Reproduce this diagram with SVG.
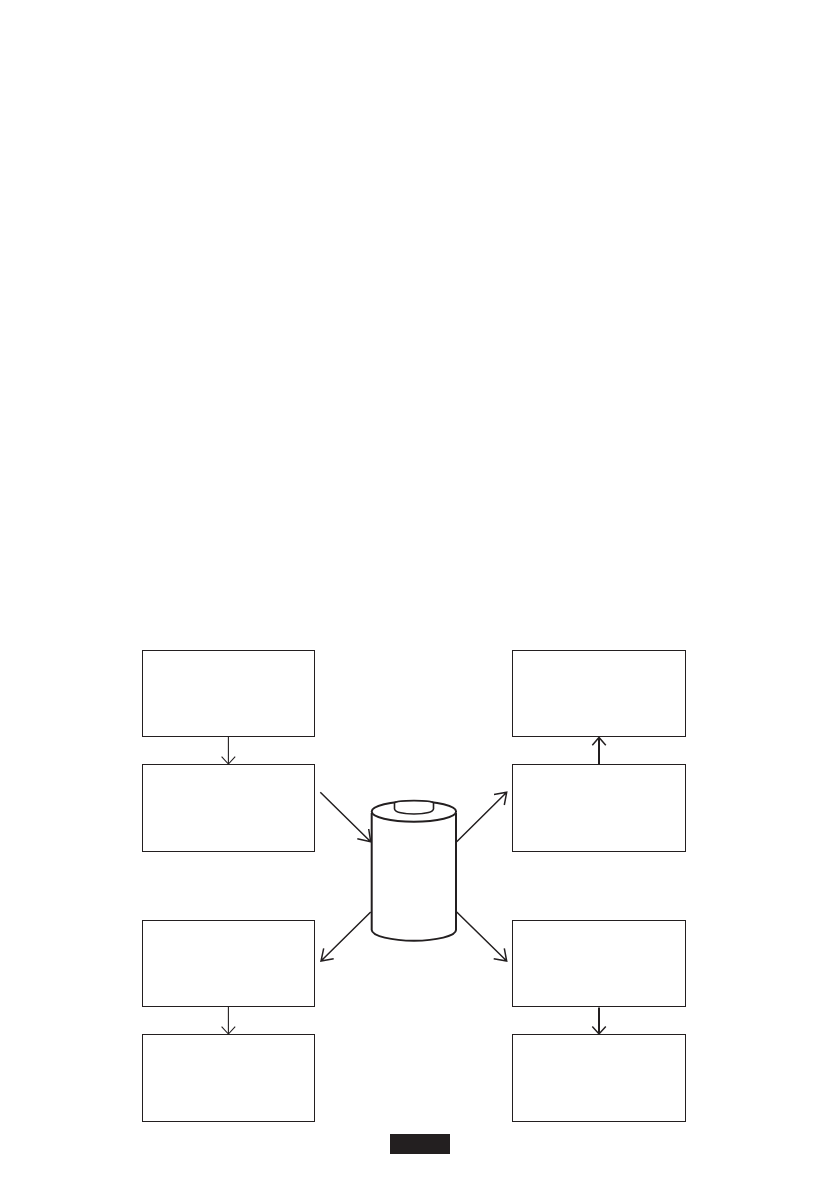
<svg xmlns="http://www.w3.org/2000/svg" width="839" height="1191" viewBox="0 0 839 1191">
<style>
.box{fill:#fff;stroke:#231f20;stroke-width:1}
.c{fill:none;stroke:#231f20;stroke-width:1.1}
.d{fill:none;stroke:#231f20;stroke-width:1.5}
.t{stroke-width:2}
.b{fill:#fff;stroke:#231f20;stroke-width:2}
.cap{fill:#fff;stroke:#231f20;stroke-width:1.6}
</style>
<rect width="839" height="1191" fill="#fff"/>
<g id="box-top-left-1"><rect class="box" x="142.5" y="650.5" width="172" height="86"/></g>
<g id="box-top-left-2"><rect class="box" x="142.5" y="764.5" width="172" height="87"/></g>
<g id="box-bottom-left-1"><rect class="box" x="142.5" y="920.5" width="172" height="86"/></g>
<g id="box-bottom-left-2"><rect class="box" x="142.5" y="1034.5" width="172" height="87"/></g>
<g id="box-top-right-1"><rect class="box" x="512.5" y="650.5" width="173" height="86"/></g>
<g id="box-top-right-2"><rect class="box" x="512.5" y="764.5" width="173" height="87"/></g>
<g id="box-bottom-right-1"><rect class="box" x="512.5" y="920.5" width="173" height="86"/></g>
<g id="box-bottom-right-2"><rect class="box" x="512.5" y="1034.5" width="173" height="87"/></g>
<g id="battery">
<path class="b" d="M371.7 813V930C372 936 392 940.7 414 940.7C436 940.7 456 936 456 930V813"/>
<ellipse class="b" cx="413.9" cy="811.5" rx="42.2" ry="10.3"/>
<path class="cap" d="M394.5 803C397 799.8 431 799.8 433.5 803V809C432.5 815.6 395.5 815.6 394.5 809Z"/>
</g>
<g id="label-bar"><rect x="390" y="1134" width="60" height="20" fill="#231f20"/></g>
<g id="connectors">
<path class="c" d="M228.4 736.5V764M221.6 756.6L228.4 764L235.2 756.6"/>
<path class="c" d="M228.4 1006.5V1034M221.6 1026.6L228.4 1034L235.2 1026.6"/>
<path class="c t" d="M599 764.5V738"/><path class="d" d="M592.3 745.3L599 737.5L605.8 745.3"/>
<path class="c t" d="M599 1007.5V1034"/><path class="d" d="M592.3 1026.6L599 1034L605.8 1026.6"/>
<path class="d" d="M320.3 792.3L370.7 841.7M357.3 838.8L370.7 841.7L368.7 829"/>
<path class="d" d="M456.7 841.7L506.7 792.3M494 794.6L506.7 792.3L504.3 805"/>
<path class="d" d="M370.7 912L321 961M323.7 948.3L321 961L333.7 958.7"/>
<path class="d" d="M456.7 912L506.7 961M504.3 948.3L506.7 961L493.7 958.7"/>
</g>
</svg>
